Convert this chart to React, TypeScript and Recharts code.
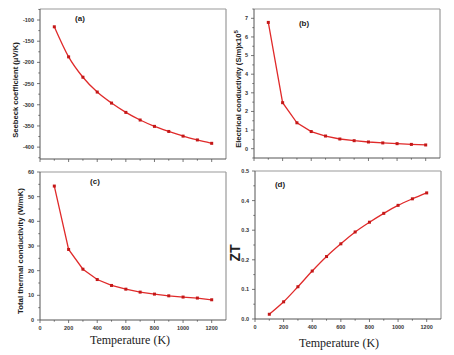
import { LineChart, Line, XAxis, YAxis, ReferenceLine } from 'recharts';

const temps = [100, 200, 300, 400, 500, 600, 700, 800, 900, 1000, 1100, 1200];
const seebeck = [-116, -187, -235, -270, -296, -318, -336, -351, -363, -374, -383, -391];
const elecCond = [6.78, 2.47, 1.39, 0.92, 0.68, 0.52, 0.43, 0.36, 0.31, 0.27, 0.23, 0.2];
const thermCond = [54.3, 28.6, 20.6, 16.4, 14.0, 12.5, 11.3, 10.5, 9.8, 9.3, 8.9, 8.2];
const zt = [0.016, 0.058, 0.109, 0.162, 0.211, 0.254, 0.294, 0.327, 0.357, 0.384, 0.406, 0.426];

const xTicks = [0, 100, 200, 300, 400, 500, 600, 700, 800, 900, 1000, 1100, 1200];
const seebeckTicks = [-425, -400, -375, -350, -325, -300, -275, -250, -225, -200, -175, -150, -125, -100, -75];
const elecTicks = [-0.5, 0, 0.5, 1, 1.5, 2, 2.5, 3, 3.5, 4, 4.5, 5, 5.5, 6, 6.5, 7, 7.5];
const thermTicks = [0, 5, 10, 15, 20, 25, 30, 35, 40, 45, 50, 55, 60];
const ztTicks = [0, 0.05, 0.1, 0.15, 0.2, 0.25, 0.3, 0.35, 0.4, 0.45, 0.5];

const RED = '#e02a2a';
const DOT = '#c41818';
const AXIS = '#555';
const FRAME = '#999';
const PLOT_W = 186;
const X_MAX = 1300;

function makeYTick(isMajor: (v: number) => boolean, fmt: (v: number) => string) {
  return (p: any) => {
    const v = p.payload.value;
    const major = isMajor(v);
    const len = major ? 3 : 1.7;
    return (
      <g>
        <line x1={p.x} x2={p.x - len} y1={p.y} y2={p.y} stroke={AXIS} strokeWidth={0.8} />
        {major && (
          <text x={p.x - 6} y={p.y} dy="0.35em" textAnchor="end" fontSize={5.5} fontWeight={700} fill="#333" fontFamily="Liberation Sans, Arial, sans-serif">
            {fmt(v)}
          </text>
        )}
      </g>
    );
  };
}

function makeXTick(showLabels: boolean) {
  return (p: any) => {
    const v = p.payload.value;
    const major = v % 200 === 0;
    const len = major ? 3 : 1.7;
    return (
      <g>
        <line x1={p.x} x2={p.x} y1={p.y} y2={p.y + len} stroke={AXIS} strokeWidth={0.8} />
        {showLabels && major && (
          <text x={p.x} y={p.y + 8} dy="0.35em" textAnchor="middle" fontSize={5.5} fontWeight={700} fill="#333" fontFamily="Liberation Sans, Arial, sans-serif">
            {v}
          </text>
        )}
      </g>
    );
  };
}

const renderDot = (p: any) => (
  <rect key={`d${p.index}`} x={p.cx - 1.5} y={p.cy - 1.5} width={3} height={3} fill={DOT} />
);

interface PanelProps {
  left: number;
  top: number;
  plotH: number;
  values: number[];
  domain: [number, number];
  yTicks: number[];
  yMajor: (v: number) => boolean;
  yFmt: (v: number) => string;
  xLabels: boolean;
  curve: 'monotone' | 'linear';
}

function Panel({ left, top, plotH, values, domain, yTicks, yMajor, yFmt, xLabels, curve }: PanelProps) {
  const data = temps.map((t, i) => ({ t, v: values[i] }));
  return (
    <div style={{ position: 'absolute', left: left - 40, top: top - 10 }}>
      <LineChart width={PLOT_W + 44} height={plotH + 30} data={data} margin={{ top: 10, right: 4, left: 0, bottom: 0 }}>
        <XAxis
          dataKey="t"
          type="number"
          domain={[0, X_MAX]}
          ticks={xTicks}
          interval={0}
          height={20}
          tickSize={0}
          tickMargin={0}
          tickLine={false}
          axisLine={{ stroke: AXIS, strokeWidth: 1 }}
          tick={makeXTick(xLabels)}
        />
        <YAxis
          type="number"
          domain={domain}
          ticks={yTicks}
          interval={0}
          width={40}
          tickSize={0}
          tickMargin={0}
          tickLine={false}
          allowDataOverflow
          axisLine={{ stroke: AXIS, strokeWidth: 1 }}
          tick={makeYTick(yMajor, yFmt)}
        />
        <ReferenceLine y={domain[1]} stroke={FRAME} strokeWidth={1.2} ifOverflow="visible" />
        <ReferenceLine x={X_MAX} stroke={FRAME} strokeWidth={1.2} ifOverflow="visible" />
        <Line
          type={curve}
          dataKey="v"
          stroke={RED}
          strokeWidth={1.3}
          dot={renderDot}
          isAnimationActive={false}
        />
      </LineChart>
    </div>
  );
}

const boldSans = 'Liberation Sans, Arial, sans-serif';

function VLabel({ x, y, size, children }: { x: number; y: number; size: number; children: any }) {
  return (
    <div
      style={{
        position: 'absolute',
        left: x,
        top: y,
        transform: 'translate(-50%, -50%) rotate(-90deg)',
        whiteSpace: 'nowrap',
        fontFamily: boldSans,
        fontWeight: 700,
        fontSize: size,
        color: '#222',
      }}
    >
      {children}
    </div>
  );
}

function Tag({ x, y, text }: { x: number; y: number; text: string }) {
  return (
    <div style={{ position: 'absolute', left: x, top: y, transform: 'translate(-50%, -50%)', fontFamily: boldSans, fontWeight: 700, fontSize: 8, color: '#222' }}>
      {text}
    </div>
  );
}

function XTitle({ x, y }: { x: number; y: number }) {
  return (
    <div style={{ position: 'absolute', left: x, top: y, transform: 'translate(-50%, -50%)', fontFamily: '"Liberation Serif", "Times New Roman", serif', fontSize: 12, color: '#222', whiteSpace: 'nowrap' }}>
      Temperature (K)
    </div>
  );
}

export default function App() {
  return (
    <div style={{ position: 'absolute', left: 0, top: 0, width: 454, height: 355, background: '#fff', overflow: 'hidden' }}>
      <Panel left={40} top={9} plotH={150} values={seebeck} domain={[-428, -74]} yTicks={seebeckTicks}
        yMajor={(v) => v % 50 === 0} yFmt={(v) => String(v)} xLabels={false} curve="monotone" />
      <Panel left={254} top={9} plotH={149} values={elecCond} domain={[-0.5, 7.5]} yTicks={elecTicks}
        yMajor={(v) => Number.isInteger(v)} yFmt={(v) => String(v)} xLabels={false} curve="linear" />
      <Panel left={40} top={172} plotH={148} values={thermCond} domain={[0, 60]} yTicks={thermTicks}
        yMajor={(v) => v % 10 === 0} yFmt={(v) => String(v)} xLabels={true} curve="linear" />
      <Panel left={255} top={171} plotH={148} values={zt} domain={[0, 0.5]} yTicks={ztTicks}
        yMajor={(v) => Math.round(v * 100) % 10 === 0} yFmt={(v) => v.toFixed(1)} xLabels={true} curve="monotone" />

      <VLabel x={15} y={90} size={7.6}>Seebeck coefficient (μV/K)</VLabel>
      <VLabel x={238} y={89} size={7.6}>
        Electrical conductivity (S/m)x10<sup style={{ fontSize: 6 }}>5</sup>
      </VLabel>
      <VLabel x={20} y={251} size={7.8}>Total thermal conductivity (W/mK)</VLabel>
      <VLabel x={235} y={253} size={14}>ZT</VLabel>

      <Tag x={80} y={18} text="(a)" />
      <Tag x={304} y={23} text="(b)" />
      <Tag x={95} y={181} text="(c)" />
      <Tag x={280} y={184} text="(d)" />

      <XTitle x={130} y={340} />
      <XTitle x={339} y={343} />
    </div>
  );
}
